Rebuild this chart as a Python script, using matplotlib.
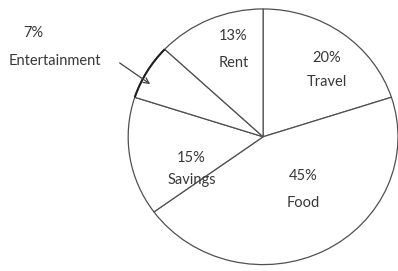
import matplotlib.pyplot as plt
from matplotlib.patches import Arc

# Budget shares, drawn clockwise from the top
categories = ['Travel', 'Food', 'Savings', 'Entertainment', 'Rent']
shares = [20, 45, 15, 7, 13]

plt.rcParams['font.family'] = ['Lato', 'DejaVu Sans']

fig = plt.figure(figsize=(3.98, 2.71), dpi=100)
ax = fig.add_axes([0, 0, 1, 1])

wedges, _ = ax.pie(shares, startangle=90, counterclock=False,
                   colors=['white'] * len(shares),
                   wedgeprops=dict(edgecolor='#505050', linewidth=0.9))
# the entertainment slice has a darker rim in the original
ent = wedges[3]
ax.add_patch(Arc(ent.center, 2 * ent.r, 2 * ent.r, theta1=ent.theta1,
                 theta2=ent.theta2, color='#202020', lw=1.5))

# stretch the unit circle a little wider than tall, like the scan
ax.set_aspect('auto')
ax.set_xlim(-1.95, 1.0)
ax.set_ylim(-1.05, 1.07)
ax.axis('off')

txt = dict(ha='center', va='center', fontsize=10.5, color='#383838')
label_pos = {'Travel': (0.47, 0.52), 'Food': (0.30, -0.41),
             'Savings': (-0.53, -0.25), 'Rent': (-0.22, 0.68)}
gaps = {'Travel': 0.19, 'Food': 0.21, 'Savings': 0.17, 'Rent': 0.21}
for name, pct in zip(categories, shares):
    if name not in label_pos:
        continue
    x, y = label_pos[name]
    ax.text(x, y + gaps[name] / 2, f'{pct}%', **txt)
    ax.text(x, y - gaps[name] / 2, name, **txt)

# entertainment is labelled outside with an arrow
ax.text(-1.70, 0.81, f'{shares[3]}%', **txt)
ax.text(-1.54, 0.59, categories[3], **txt)
ax.annotate('', xy=(-0.82, 0.40), xytext=(-1.08, 0.59),
            arrowprops=dict(arrowstyle='->', color='#404040', lw=0.9))

fig.savefig('out.png', dpi=100)
